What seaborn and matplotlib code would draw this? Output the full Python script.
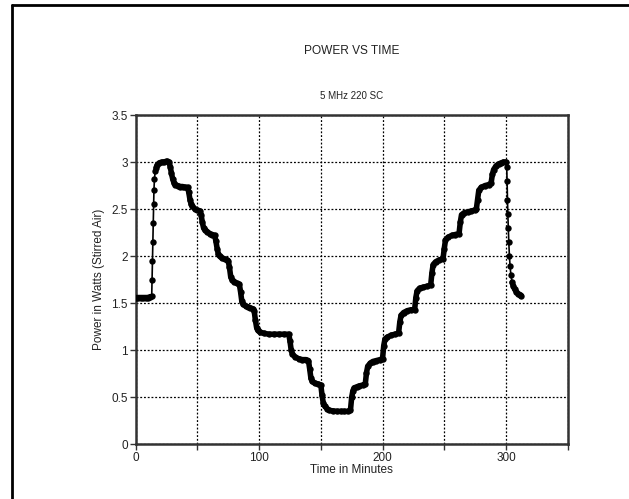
import matplotlib
matplotlib.use("Agg")
import matplotlib.pyplot as plt
import seaborn as sns
import pandas as pd
from matplotlib.lines import Line2D

# ---- data ----
time_min = [
    0, 2, 4, 6, 8, 10, 12, 13,
    13.3, 13.6, 13.9, 14.2, 14.5, 14.8, 15.2, 15.8, 16.5, 17.5, 19, 21, 23, 25, 27,
    28, 29, 30, 31, 32, 34, 36, 38, 40, 42,
    43, 44, 45, 46, 48, 50, 52,
    53, 54, 55, 56, 58, 60, 62, 64,
    65, 66, 67, 68, 70, 72, 74, 75,
    76, 77, 78, 80, 82, 84,
    85, 86, 87, 89, 91, 93, 95, 96,
    97, 98, 99, 101, 104, 108, 112, 116, 120, 124,
    125, 126, 127, 129, 132, 135, 138, 140,
    141, 142, 143, 145, 148, 150,
    151, 152, 153, 155, 157, 160, 163, 166, 169, 172, 174,
    175, 176, 177, 179, 181, 184, 186,
    187, 188, 190, 192, 195, 198, 200,
    201, 202, 204, 207, 210, 213,
    214, 215, 217, 220, 223, 226,
    227, 228, 230, 233, 236, 239,
    240, 241, 243, 246, 249,
    250, 251, 253, 256, 259, 262,
    263, 264, 266, 269, 272, 275, 276,
    277, 278, 280, 283, 286, 288,
    289, 290, 292, 294, 296, 298, 300,
    300.6, 300.9, 301.2, 301.5, 301.9, 302.3, 302.8, 303.3, 304, 305, 306, 307,
    308.5, 310, 311.5, 312.5,
]
power_w = [
    1.56, 1.56, 1.56, 1.56, 1.56, 1.56, 1.57, 1.58,
    1.75, 1.95, 2.15, 2.35, 2.55, 2.70, 2.82, 2.90, 2.94, 2.97, 2.99, 3.00, 3.00, 3.01, 3.00,
    2.95, 2.88, 2.82, 2.78, 2.76, 2.75, 2.74, 2.74, 2.73, 2.73,
    2.68, 2.60, 2.55, 2.53, 2.50, 2.49, 2.48,
    2.44, 2.36, 2.30, 2.28, 2.26, 2.24, 2.23, 2.22,
    2.16, 2.08, 2.02, 2.00, 1.98, 1.97, 1.96, 1.95,
    1.88, 1.78, 1.75, 1.73, 1.71, 1.70,
    1.62, 1.52, 1.49, 1.47, 1.46, 1.45, 1.44, 1.42,
    1.32, 1.24, 1.21, 1.19, 1.18, 1.17, 1.17, 1.17, 1.17, 1.17,
    1.10, 1.00, 0.96, 0.93, 0.91, 0.90, 0.90, 0.89,
    0.80, 0.70, 0.67, 0.65, 0.64, 0.63,
    0.52, 0.44, 0.41, 0.38, 0.36, 0.355, 0.35, 0.35, 0.35, 0.35, 0.36,
    0.50, 0.57, 0.60, 0.61, 0.62, 0.63, 0.64,
    0.76, 0.83, 0.86, 0.88, 0.89, 0.90, 0.91,
    1.05, 1.12, 1.14, 1.16, 1.17, 1.18,
    1.30, 1.37, 1.40, 1.42, 1.43, 1.43,
    1.56, 1.63, 1.66, 1.67, 1.68, 1.69,
    1.82, 1.91, 1.94, 1.96, 1.97,
    2.08, 2.17, 2.20, 2.22, 2.23, 2.24,
    2.36, 2.44, 2.46, 2.47, 2.48, 2.49, 2.50,
    2.60, 2.70, 2.73, 2.75, 2.76, 2.78,
    2.87, 2.92, 2.96, 2.98, 2.99, 3.00, 3.00,
    2.95, 2.80, 2.60, 2.45, 2.30, 2.15, 2.00, 1.90, 1.80, 1.72, 1.68, 1.65,
    1.62, 1.60, 1.59, 1.58,
]

# time windows where the trace changes so fast that only sparse points show
fast_windows = [(12.5, 16.0), (300.3, 304.5)]

x_ticks = [0, 100, 200, 300]
x_minor = [50, 150, 250, 350]
y_ticks = [0, 0.5, 1, 1.5, 2, 2.5, 3, 3.5]
y_tick_labels = ["0", "0.5", "1", "1.5", "2", "2.5", "3", "3.5"]

title = "POWER VS TIME"
subtitle = "5 MHz 220 SC"
x_label = "Time in Minutes"
y_label = "Power in Watts (Stirred Air)"

df = pd.DataFrame({"t": time_min, "p": power_w})

# split the trace into slow (thick) runs
fast = pd.Series(False, index=df.index)
for a, b in fast_windows:
    fast |= (df["t"] > a) & (df["t"] < b)
run_id = (fast != fast.shift()).cumsum()
slow_runs = [g for _, g in df[~fast].groupby(run_id[~fast])]

sns.set_theme(style="white")
plt.rcParams["font.family"] = ["Liberation Sans", "DejaVu Sans"]

fig = plt.figure(figsize=(6.29, 4.99), dpi=100)
ax = fig.add_axes([0.2157, 0.1096, 0.6868, 0.6599])

sns.lineplot(data=df, x="t", y="p", ax=ax, color="black", sort=False,
             estimator=None, linewidth=1.2, marker="o", markersize=4.6,
             markeredgewidth=0, zorder=3)
for g in slow_runs:
    sns.lineplot(data=g, x="t", y="p", ax=ax, color="black", sort=False,
                 estimator=None, linewidth=4.0, solid_capstyle="round",
                 solid_joinstyle="round", zorder=4)

ax.set_xlim(0, 350)
ax.set_ylim(0, 3.5)
ax.set_xticks(x_ticks)
ax.set_xticks(x_minor, minor=True)
ax.set_yticks(y_ticks)
ax.set_yticklabels(y_tick_labels)

ax.grid(True, which="both", axis="x", color="black", linestyle=(0, (1.5, 1.5)), linewidth=0.9)
ax.grid(True, which="major", axis="y", color="black", linestyle=(0, (1.5, 1.5)), linewidth=0.9)

for s in ax.spines.values():
    s.set_visible(True)
    s.set_color("#333333")
    s.set_linewidth(1.8)

ax.tick_params(axis="both", which="both", direction="out", length=4, width=1,
               color="#333333", labelsize=8.5, pad=1.5, labelcolor="#222222")
ax.tick_params(axis="x", which="both", bottom=True)
ax.tick_params(axis="y", which="both", left=True)

ax.set_xlabel(x_label, fontsize=8.5, labelpad=0, color="#222222")
ax.set_ylabel(y_label, fontsize=8.5, labelpad=5, color="#222222")

fig.text(0.559, 0.898, title, ha="center", va="center", fontsize=8.6, color="#222222")
fig.text(0.559, 0.808, subtitle, ha="center", va="center", fontsize=7, color="#222222")

# outer frame (left and top edges)
fig.add_artist(Line2D([12 / 629, 12 / 629], [0.0, 1 - 5 / 499], transform=fig.transFigure,
                      color="black", linewidth=2))
fig.add_artist(Line2D([12 / 629, 1.0], [1 - 5 / 499, 1 - 5 / 499], transform=fig.transFigure,
                      color="black", linewidth=2))

fig.savefig("out.png", dpi=100)
